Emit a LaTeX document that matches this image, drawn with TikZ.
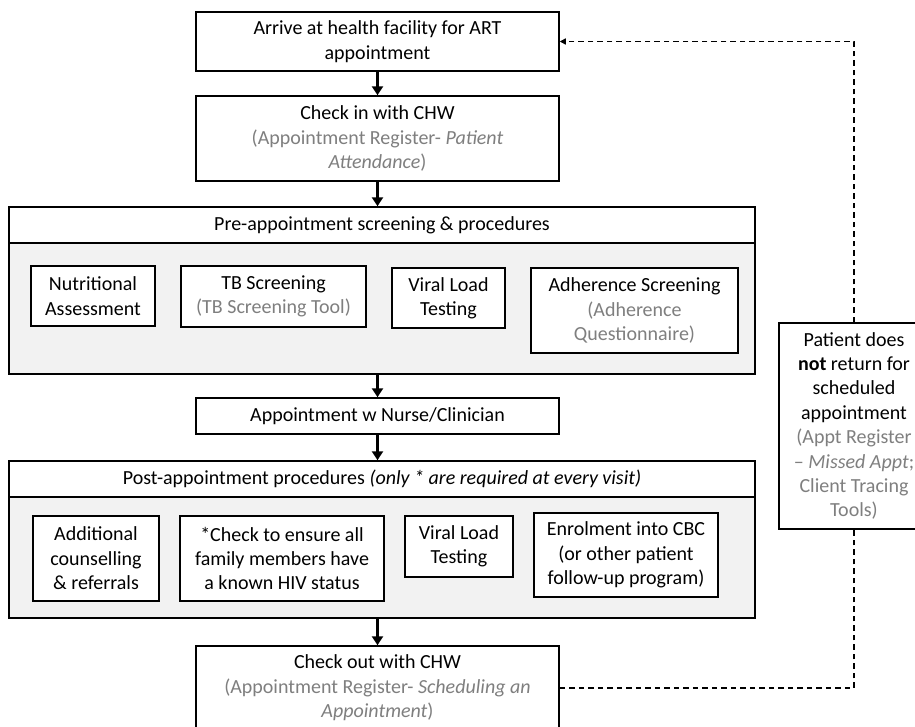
\documentclass[tikz,border=0pt]{standalone}
\usepackage{fontspec}
\setmainfont{Carlito}
\usetikzlibrary{arrows.meta}
\definecolor{tgray}{HTML}{7F7F7F}
\definecolor{lgray}{HTML}{F2F2F2}
\begin{document}
\begin{tikzpicture}[x=1pt,y=-1pt,
  every node/.style={font=\fontsize{20}{24.4}\selectfont, align=center, inner sep=0pt},
  box/.style={draw, line width=1.5pt, fill=white},
  outerbox/.style={draw, line width=1.5pt, fill=lgray},
  flow/.style={line width=2.8pt, -{Triangle[length=9pt,width=11pt]}},
  loopline/.style={line width=1.4pt, dash pattern=on 5.5pt off 4pt}]
\useasboundingbox (0,0) rectangle (915,726);
\clip (0,0) rectangle (915,726);

\node[box, minimum width=363pt, minimum height=59pt] (arrive) at (377.5,41.5) {Arrive at health facility for ART\\appointment};
\node[box, minimum width=363pt, minimum height=85pt] (checkin) at (377.5,138.5) {Check in with CHW\\ \textcolor{tgray}{(Appointment Register- \textit{Patient}}\\ \textcolor{tgray}{\textit{Attendance})}};

\node[outerbox, minimum width=746pt, minimum height=167pt] (pre) at (382,290.5) {};
\node[box, minimum width=746pt, minimum height=36pt] (prehdr) at (382,225) {Pre-appointment screening \& procedures};
\node[box, minimum width=124pt, minimum height=60pt] (nutr) at (93,296) {Nutritional\\Assessment};
\node[box, minimum width=185pt, minimum height=61pt] (tb) at (273.5,296.5) {TB Screening\\ \textcolor{tgray}{(TB Screening Tool)}};
\node[box, minimum width=113pt, minimum height=60pt] (vla) at (448.5,298) {Viral Load\\Testing};
\node[box, minimum width=207pt, minimum height=85pt] (adh) at (634.5,310.5) {Adherence Screening\\ \textcolor{tgray}{(Adherence}\\ \textcolor{tgray}{Questionnaire)}};

\node[box, minimum width=363pt, minimum height=36pt] (nurse) at (377.5,416) {Appointment w Nurse/Clinician};

\node[outerbox, minimum width=746pt, minimum height=157pt] (post) at (382,539.5) {};
\node[box, minimum width=746pt, minimum height=36pt] (posthdr) at (382,479) {Post-appointment procedures \textit{(only * are required at every visit)}};
\node[box, minimum width=126pt, minimum height=85pt] (add) at (96,558.5) {Additional\\counselling\\\& referrals};
\node[box, minimum width=204pt, minimum height=85pt] (chk) at (282,558.5) {*Check to ensure all\\family members have\\a known HIV status};
\node[box, minimum width=108pt, minimum height=61pt] (vlb) at (459,546.5) {Viral Load\\Testing};
\node[box, minimum width=184pt, minimum height=84pt] (enr) at (626,555) {Enrolment into CBC\\(or other patient\\follow-up program)};

\node[box, minimum width=363pt, minimum height=84pt] (checkout) at (377.5,688) {Check out with CHW\\ \textcolor{tgray}{(Appointment Register- \textit{Scheduling an}}\\ \textcolor{tgray}{\textit{Appointment})}};

\node[box, minimum width=150pt, minimum height=206pt] (side) at (854,426) {Patient does\\ \textbf{not} return for\\ scheduled\\ appointment\\ \textcolor{tgray}{(Appt Register}\\ \textcolor{tgray}{– \textit{Missed Appt};}\\ \textcolor{tgray}{Client Tracing}\\ \textcolor{tgray}{Tools)}};

\draw[flow] (arrive.south) -- (checkin.north);
\draw[flow] (checkin.south) -- (checkin.south |- pre.north);
\draw[flow] (nurse.north |- pre.south) -- (nurse.north);
\draw[flow] (nurse.south) -- (nurse.south |- post.north);
\draw[flow] (checkout.north |- post.south) -- (checkout.north);

\draw[loopline] (checkout.east) -| (side.south);
\draw[loopline, -{Triangle[length=6pt,width=6pt]}] (side.north) |- (arrive.east);
\end{tikzpicture}
\end{document}
